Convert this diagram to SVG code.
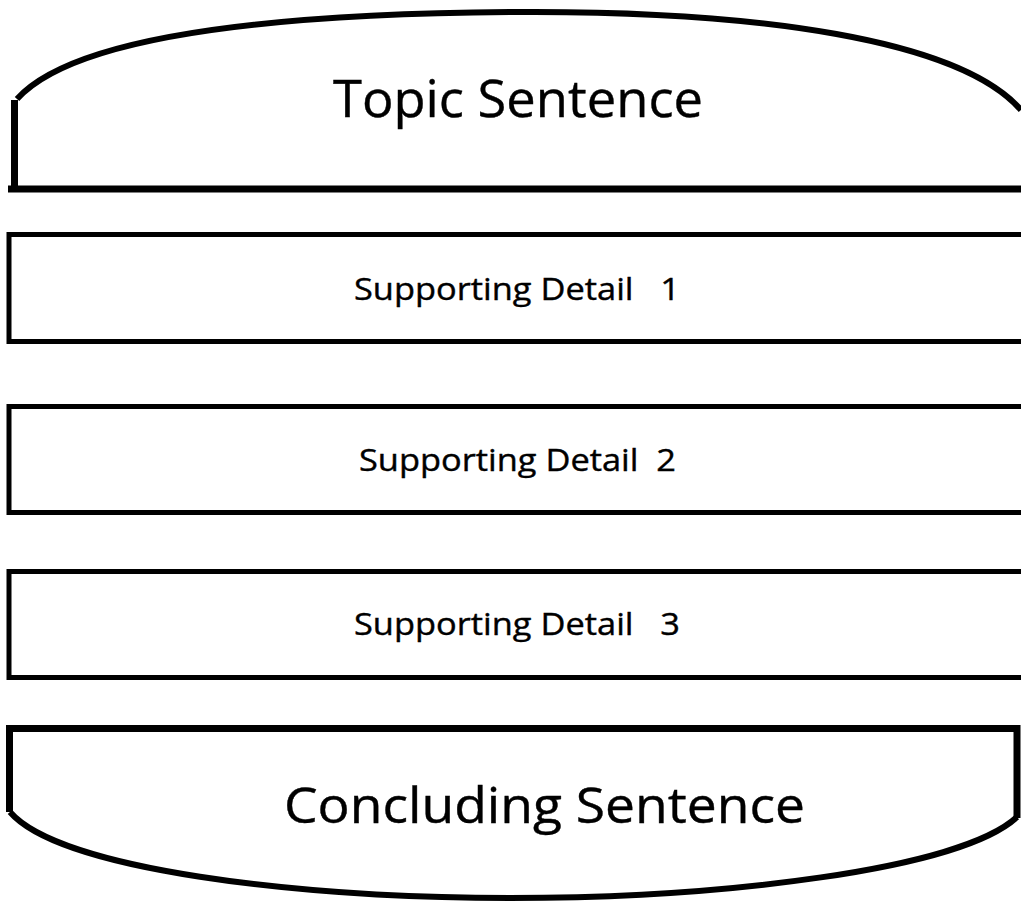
<svg xmlns="http://www.w3.org/2000/svg" width="1021" height="909" viewBox="0 0 1021 909">
<style>
.ln{fill:none;stroke:#000;stroke-linejoin:miter;stroke-linecap:butt}
.box{fill:#fff;stroke:#000;stroke-width:5}
.t{font-family:"Open Sans","Noto Sans",sans-serif;fill:#000;white-space:pre;stroke:#000;stroke-width:0.4}
</style>
<rect width="1021" height="909" fill="#fff"/>
<g id="topic">
<path class="ln" stroke-width="7" d="M14.5,186 L14.5,100"/>
<path class="ln" stroke-width="6" d="M17,99 C70,40 250,14 510,12 C760,10 960,40 1021,110"/>
<path class="ln" stroke-width="7" d="M8,189 L1021,189"/>
<text class="t" x="333" y="117" font-size="52" textLength="370" lengthAdjust="spacingAndGlyphs">Topic Sentence</text>
</g>
<g id="detail1">
<rect class="box" x="9" y="234.5" width="1020" height="107"/>
<text class="t" x="354" y="300" font-size="31" textLength="326" lengthAdjust="spacingAndGlyphs" xml:space="preserve">Supporting Detail   1</text>
</g>
<g id="detail2">
<rect class="box" x="9" y="406.5" width="1020" height="106"/>
<text class="t" x="359" y="471" font-size="31" textLength="317" lengthAdjust="spacingAndGlyphs" xml:space="preserve">Supporting Detail  2</text>
</g>
<g id="detail3">
<rect class="box" x="9" y="571.5" width="1020" height="106"/>
<text class="t" x="354" y="635" font-size="31" textLength="326" lengthAdjust="spacingAndGlyphs" xml:space="preserve">Supporting Detail   3</text>
</g>
<g id="concluding">
<path class="ln" stroke-width="7" d="M9.5,812 L9.5,728.5 L1017,728.5 L1017,818"/>
<path class="ln" stroke-width="6" d="M10,812 C60,870 300,898 510,898 C720,898 960,870 1017,817"/>
<text class="t" x="284" y="823" font-size="50" textLength="521" lengthAdjust="spacingAndGlyphs">Concluding Sentence</text>
</g>
<g id="connectors"/>
</svg>
